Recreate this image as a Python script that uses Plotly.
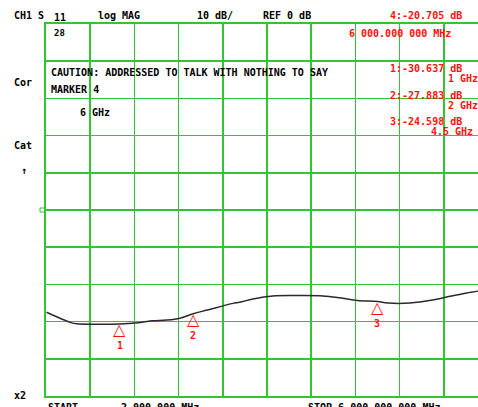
import plotly.graph_objects as go

# ---- data ----
freq_mhz = [10, 330, 420, 730, 1000, 1210, 1440, 1640, 1820, 2000, 2190, 2540, 2630,
            2810, 3080, 3450, 3760, 3990, 4230, 4500, 4640, 4940, 5250, 5440, 5710,
            5860, 6000]
mag_db = [-27.5, -30.2, -30.6, -30.7, -30.637, -30.4, -29.8, -29.6, -29.1, -27.883,
          -26.9, -25.1, -24.8, -23.9, -23.1, -23.0, -23.1, -23.6, -24.3, -24.598,
          -25.0, -25.0, -24.2, -23.4, -22.3, -21.8, -20.705]
marker_ids = ["1", "2", "3", "4"]
marker_freq_mhz = [1000, 2000, 4500, 6000]
marker_db = [-30.637, -27.883, -24.598, -20.705]
start_mhz = 2.0
stop_mhz = 6000.0
ref_db = 0
scale_db = 10

W, H = 478, 407
PLOT_L, PLOT_T, PLOT_B = 46, 24, 396  # page pixels
L, T, R = PLOT_L, PLOT_T, 0
B = H - PLOT_B
PW = W - L - R
PH = H - T - B
full_w = 442.0  # full 10-division width (right part is off-screen)
span = stop_mhz - start_mhz
x_end = start_mhz + span * PW / full_w

GREEN = "#33c433"
RED = "#ff1010"
FONT = "DejaVu Sans Mono"


def px(x):
    return (x - PLOT_L) / PW


def py(y):
    return (PLOT_B - y) / PH


fig = go.Figure()
fig.add_trace(go.Scatter(x=freq_mhz, y=mag_db, mode="lines",
                         line=dict(color="#2a2a2a", width=1.5, shape="spline"),
                         hoverinfo="skip", showlegend=False))

annotations = []
for mid, f, v in zip(marker_ids, marker_freq_mhz, marker_db):
    if f > x_end:
        continue
    annotations.append(dict(x=f, y=v, xref="x", yref="y", text="△", showarrow=False,
                            yanchor="top", yshift=6,
                            font=dict(family="DejaVu Sans", size=16, color=RED)))
    annotations.append(dict(x=f, y=v, xref="x", yref="y", text="<b>" + mid + "</b>",
                            showarrow=False, yanchor="top", yshift=-14,
                            font=dict(family=FONT, size=10, color=RED)))


def txt(x, y, s, color="black", size=10):
    annotations.append(dict(x=px(x), y=py(y), xref="paper", yref="paper",
                            text="<b>" + s + "</b>", showarrow=False,
                            xanchor="left", yanchor="middle",
                            font=dict(family=FONT, size=size, color=color)))


txt(12, 15, "CH1 S")
txt(52, 17, "11")
txt(96, 15, "log MAG")
txt(195, 15, "%d dB/" % scale_db)
txt(261, 15, "REF %d dB" % ref_db)
txt(388, 15, "4:-20.705 dB", RED)
txt(52, 33, "28", size=9)
txt(347, 34, "6 000.000 000 MHz", RED)
txt(49, 72, "CAUTION: ADDRESSED TO TALK WITH NOTHING TO SAY")
txt(49, 90, "MARKER 4")
txt(78, 112, "6 GHz")
txt(388, 68, "1:-30.637 dB", RED)
txt(446, 78, "1 GHz", RED)
txt(388, 95, "2:-27.883 dB", RED)
txt(446, 105, "2 GHz", RED)
txt(388, 121, "3:-24.598 dB", RED)
txt(429, 131, "4.5 GHz", RED)
txt(12, 82, "Cor")
txt(12, 145, "Cat")
txt(19, 170, "↑")
txt(12, 395, "x2")
txt(46, 407, "START")
txt(119, 407, "2.000 000 MHz")
txt(306, 407, "STOP 6 000.000 000 MHz")

shapes = [dict(type="rect", xref="paper", yref="paper",
               x0=px(40), x1=px(45), y0=py(212), y1=py(208),
               line=dict(color=GREEN, width=1), fillcolor="rgba(0,0,0,0)")]

fig.update_layout(
    width=W, height=H,
    margin=dict(l=L, r=R, t=T, b=B, pad=0),
    paper_bgcolor="white", plot_bgcolor="white",
    annotations=annotations, shapes=shapes,
    hovermode=False,
    xaxis=dict(range=[start_mhz, x_end], tick0=start_mhz, dtick=span / 10,
               showgrid=True, gridcolor=GREEN, gridwidth=1.5,
               showline=True, linecolor=GREEN, linewidth=2, mirror=True,
               zeroline=False, showticklabels=False, ticks="", fixedrange=True),
    yaxis=dict(range=[ref_db - 5 * scale_db, ref_db + 5 * scale_db], dtick=scale_db,
               showgrid=True, gridcolor=GREEN, gridwidth=1.5,
               showline=True, linecolor=GREEN, linewidth=2, mirror=False,
               zeroline=False, showticklabels=False, ticks="", fixedrange=True),
)

fig.write_html(
    "out.html",
    config={"displayModeBar": False, "staticPlot": True},
    post_script="document.documentElement.style.overflow='hidden';"
                "document.body.style.margin='0px';"
                "document.body.style.overflow='hidden';",
)
